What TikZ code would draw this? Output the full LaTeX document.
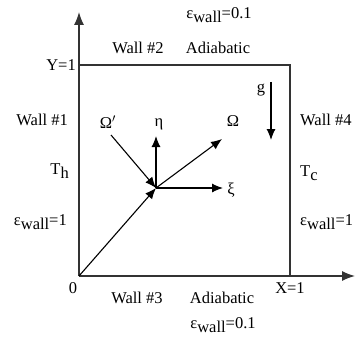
\documentclass[tikz,border=0pt]{standalone}
\usepackage{fontspec}
\setmainfont{Liberation Serif}
\usetikzlibrary{arrows.meta,positioning}

\newcommand{\epswall}[1]{ε\raisebox{-0.45ex}{wall}#1}
\newcommand{\lowsub}[2]{#1\raisebox{-0.5ex}{#2}}

\begin{document}
\begin{tikzpicture}[x=1pt,y=1pt,
   every node/.style={font=\fontsize{16.5}{19}\selectfont,inner sep=1pt},
   ax/.style={line width=1.4pt,draw=black!80,-{Latex[length=13pt,width=10pt]}},
   wl/.style={line width=1.4pt,draw=black!80},
   vec/.style={line width=1.1pt,-{Latex[length=11pt,width=9pt]}}
]
\useasboundingbox (0,0) rectangle (355,343);

% axes and cavity walls
\coordinate (O) at (79,67);
\coordinate (Ytip) at (79,331);
\coordinate (Xtip) at (355,67);
\coordinate (Y1) at (79,278);
\coordinate (X1) at (290,67);
\coordinate (TR) at (290,278);
\draw[ax] (O) -- (Ytip);
\draw[ax] (O) -- (Xtip);
\draw[wl] (Y1) -- (TR) -- (X1);

\node[anchor=east] (Ylab) at (77,278) {Y=1};
\node (Olab) at (73,55) {0};
\node (Xlab) at (290,55) {X=1};

% direction vectors
\coordinate (C) at (156,155);
\coordinate (Wp) at (111,208);
\coordinate (etaE) at (156,207);
\coordinate (omE) at (222,204);
\coordinate (xiE) at (223,155);
\draw[vec] (O) -- (C);
\draw[vec] (Wp) -- (C);
\draw[vec] (C) -- (etaE);
\draw[vec] (C) -- (omE);
\draw[vec] (C) -- (xiE);
\node (omp) at (108,221) {Ω$'$};
\node (eta) at (159,219) {η};
\node (om) at (233,222) {Ω};
\node (xi) at (231,153) {ξ};

% gravity
\coordinate (gS) at (271,261);
\coordinate (gE) at (271,203);
\draw[vec] (gS) -- (gE);
\node (g) at (261,253) {g};

% wall #2 (top)
\node (W2) at (138,295) {Wall \#2};
\node (A2) at (218,295) {Adiabatic};
\node (E2) at (219,328) {\epswall{=0.1}};

% wall #1 (left)
\node[anchor=east] (W1) at (69,223) {Wall \#1};
\node[anchor=east] (T1) at (70,172) {\lowsub{T}{h}};
\node[anchor=east] (E1) at (68,121) {\epswall{=1}};

% wall #4 (right)
\node[anchor=west] (W4) at (299,223) {Wall \#4};
\node[anchor=west] (T4) at (299,170) {\lowsub{T}{c}};
\node[anchor=west] (E4) at (299,121) {\epswall{=1}};

% wall #3 (bottom)
\node (W3) at (137,45) {Wall \#3};
\node (A3) at (222,45) {Adiabatic};
\node (E3) at (223,18) {\epswall{=0.1}};

\end{tikzpicture}
\end{document}
